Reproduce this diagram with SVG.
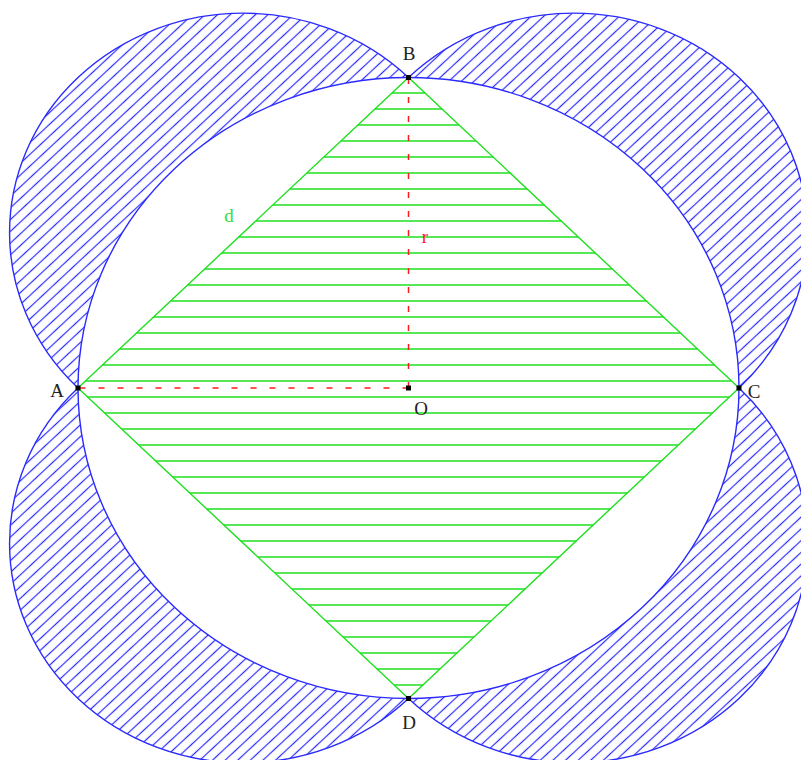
<svg xmlns="http://www.w3.org/2000/svg" width="801" height="760" viewBox="0 0 801 760">
<style>
.lobe{fill:url(#hatch);stroke:#2a2aff;stroke-width:1.4}
.big{fill:#fff;stroke:#2a2aff;stroke-width:1.4}
.gh{stroke:#1ee01e;stroke-width:1.6}
.dia{fill:none;stroke:#1ee01e;stroke-width:1.4}
.red{stroke:#ff1a1a;stroke-width:1.5;stroke-dasharray:6 13;fill:none}
.pt{fill:#000}
.lbl{font-family:"Liberation Serif","DejaVu Serif",serif;font-size:19px;fill:#222;text-anchor:middle}
</style>
<defs>
<pattern id="hatch" patternUnits="userSpaceOnUse" width="10" height="8.6" patternTransform="rotate(-43)">
<line x1="-1" y1="4.3" x2="11" y2="4.3" stroke="#2a2aff" stroke-width="1.2"/>
</pattern>
<clipPath id="dclip"><polygon points="78,388 408.5,77.5 739,388 408.5,698.5"/></clipPath>
</defs>
<rect width="801" height="760" fill="#fff"/>
<g id="lobes">
<ellipse id="lobeAB" class="lobe" cx="243.25" cy="232.75" rx="233.7" ry="219.6"/>
<ellipse id="lobeBC" class="lobe" cx="573.75" cy="232.75" rx="233.7" ry="219.6"/>
<ellipse id="lobeCD" class="lobe" cx="573.75" cy="543.25" rx="233.7" ry="219.6"/>
<ellipse id="lobeDA" class="lobe" cx="243.25" cy="543.25" rx="233.7" ry="219.6"/>
</g>
<ellipse id="circle" class="big" cx="408.5" cy="388" rx="330.5" ry="310.5"/>
<g id="square">
<g clip-path="url(#dclip)" class="gh">
<line x1="70" y1="93" x2="750" y2="93"/><line x1="70" y1="109" x2="750" y2="109"/><line x1="70" y1="125" x2="750" y2="125"/><line x1="70" y1="141" x2="750" y2="141"/><line x1="70" y1="157" x2="750" y2="157"/><line x1="70" y1="173" x2="750" y2="173"/><line x1="70" y1="189" x2="750" y2="189"/><line x1="70" y1="205" x2="750" y2="205"/><line x1="70" y1="221" x2="750" y2="221"/><line x1="70" y1="237" x2="750" y2="237"/><line x1="70" y1="253" x2="750" y2="253"/><line x1="70" y1="269" x2="750" y2="269"/><line x1="70" y1="285" x2="750" y2="285"/><line x1="70" y1="301" x2="750" y2="301"/><line x1="70" y1="317" x2="750" y2="317"/><line x1="70" y1="333" x2="750" y2="333"/><line x1="70" y1="349" x2="750" y2="349"/><line x1="70" y1="365" x2="750" y2="365"/><line x1="70" y1="381" x2="750" y2="381"/><line x1="70" y1="397" x2="750" y2="397"/><line x1="70" y1="413" x2="750" y2="413"/><line x1="70" y1="429" x2="750" y2="429"/><line x1="70" y1="445" x2="750" y2="445"/><line x1="70" y1="461" x2="750" y2="461"/><line x1="70" y1="477" x2="750" y2="477"/><line x1="70" y1="493" x2="750" y2="493"/><line x1="70" y1="509" x2="750" y2="509"/><line x1="70" y1="525" x2="750" y2="525"/><line x1="70" y1="541" x2="750" y2="541"/><line x1="70" y1="557" x2="750" y2="557"/><line x1="70" y1="573" x2="750" y2="573"/><line x1="70" y1="589" x2="750" y2="589"/><line x1="70" y1="605" x2="750" y2="605"/><line x1="70" y1="621" x2="750" y2="621"/><line x1="70" y1="637" x2="750" y2="637"/><line x1="70" y1="653" x2="750" y2="653"/><line x1="70" y1="669" x2="750" y2="669"/><line x1="70" y1="685" x2="750" y2="685"/>
</g>
<polygon class="dia" points="78,388 408.5,77.5 739,388 408.5,698.5"/>
</g>
<g id="connectors">
<line class="red" x1="408.5" y1="388" x2="78" y2="388"/>
<line class="red" x1="408.5" y1="388" x2="408.5" y2="77.5"/>
</g>
<g id="points">
<rect class="pt" x="75.5" y="385.5" width="5" height="5"/>
<rect class="pt" x="406" y="75" width="5" height="5"/>
<rect class="pt" x="736.5" y="385.5" width="5" height="5"/>
<rect class="pt" x="406" y="696" width="5" height="5"/>
<rect class="pt" x="406" y="385.5" width="5" height="5"/>
</g>
<g id="labels">
<text class="lbl" x="409" y="60">B</text>
<text class="lbl" x="57" y="397">A</text>
<text class="lbl" x="754" y="398">C</text>
<text class="lbl" x="409" y="729">D</text>
<text class="lbl" x="421" y="415">O</text>
<text class="lbl" x="229" y="222" style="fill:#33dd33">d</text>
<text class="lbl" x="425" y="243" style="fill:#ff2020">r</text>
</g>
</svg>
